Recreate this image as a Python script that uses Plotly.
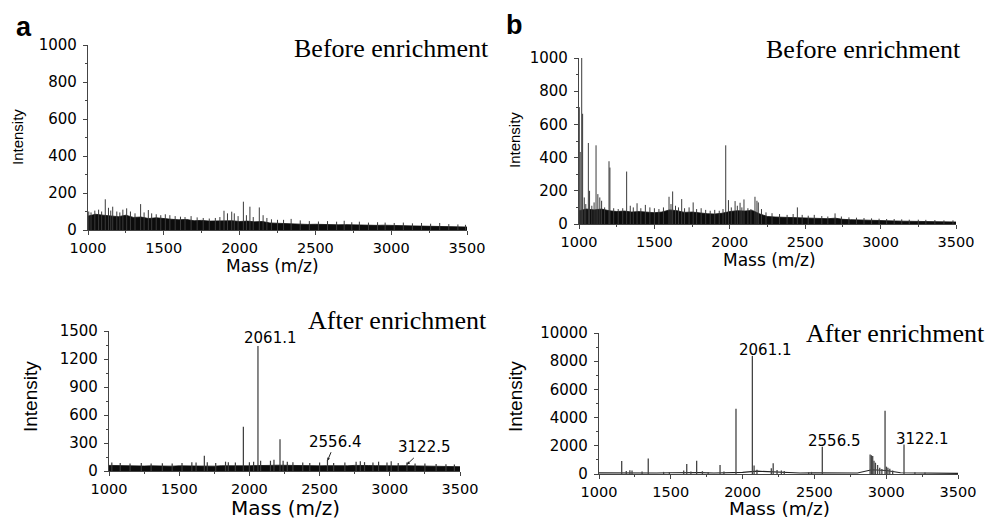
import plotly.graph_objects as go

# ---------------- data ----------------
# Panel a, before enrichment: dense noise band (upper envelope) + individual spikes
a_before_env_mass = [1000, 1050, 1100, 1150, 1200, 1250, 1300, 1350, 1400, 1450, 1500, 1550, 1600, 1650, 1700,
                     1750, 1800, 1850, 1900, 1950, 2000, 2050, 2100, 2150, 2200, 2250, 2300, 2350, 2400, 2450,
                     2500, 2550, 2600, 2650, 2700, 2750, 2800, 2850, 2900, 2950, 3000, 3050, 3100, 3150, 3200,
                     3250, 3300, 3350, 3400, 3450, 3500]
a_before_env_int = [75, 85, 80, 78, 72, 80, 68, 70, 62, 66, 60, 58, 55, 57, 50,
                    52, 48, 50, 52, 50, 46, 48, 44, 46, 38, 36, 34, 35, 32, 30,
                    31, 29, 30, 28, 29, 27, 28, 26, 25, 26, 24, 23, 24, 22, 21,
                    20, 19, 21, 18, 17, 16]
a_before_peak_mass = [1005, 1020, 1045, 1070, 1090, 1114, 1135, 1150, 1163, 1190, 1210, 1230, 1255, 1280, 1310,
                      1347, 1370, 1398, 1420, 1450, 1480, 1510, 1540, 1575, 1610, 1640, 1680, 1720, 1760, 1800,
                      1840, 1870, 1897, 1920, 1948, 1965, 1990, 2025, 2045, 2068, 2090, 2130, 2155, 2180, 2210,
                      2250, 2290, 2340, 2400, 2460, 2520, 2580, 2640, 2690, 2740, 2790, 2850, 2910, 2960, 3020,
                      3080, 3140, 3200, 3260, 3320, 3380, 3440, 3490]
a_before_peak_int = [100, 95, 105, 110, 100, 166, 120, 105, 126, 100, 95, 110, 117, 100, 90,
                     140, 95, 108, 90, 85, 80, 85, 80, 75, 72, 70, 75, 68, 65, 62,
                     65, 70, 104, 90, 99, 90, 75, 153, 80, 126, 70, 122, 80, 65, 58,
                     55, 55, 60, 52, 48, 46, 48, 45, 50, 42, 45, 40, 42, 40, 38,
                     40, 36, 38, 34, 38, 32, 30, 28]

# Panel b, before enrichment
b_before_env_mass = a_before_env_mass
b_before_env_int = [80, 90, 85, 90, 80, 75, 78, 72, 75, 70, 68, 72, 85, 80, 70,
                    72, 65, 62, 60, 65, 75, 80, 78, 82, 60, 45, 42, 40, 38, 40,
                    36, 34, 33, 32, 35, 28, 26, 24, 24, 22, 20, 19, 18, 17, 16,
                    16, 15, 14, 14, 13, 12]
b_before_peak_mass = [1002, 1008, 1018, 1024, 1035, 1045, 1062, 1070, 1085, 1100, 1113, 1125, 1138, 1150, 1170,
                      1199, 1205, 1230, 1260, 1290, 1316, 1340, 1360, 1385, 1410, 1440, 1470, 1500, 1530, 1560,
                      1597, 1610, 1621, 1640, 1660, 1681, 1700, 1730, 1757, 1780, 1810, 1840, 1870, 1900, 1930,
                      1955, 1973, 1991, 2010, 2035, 2050, 2068, 2080, 2094, 2120, 2140, 2167, 2180, 2189, 2210,
                      2240, 2280, 2330, 2380, 2420, 2448, 2480, 2520, 2560, 2610, 2650, 2698, 2740, 2790, 2840,
                      2890, 2940, 2990, 3040, 3090, 3140, 3190, 3250, 3300, 3360, 3420, 3480]
b_before_peak_int = [704, 434, 1000, 664, 160, 120, 488, 200, 110, 130, 474, 180, 160, 140, 100,
                     378, 340, 95, 90, 95, 316, 110, 100, 125, 95, 115, 100, 95, 90, 100,
                     164, 120, 196, 110, 100, 150, 95, 100, 130, 90, 95, 85, 80, 85, 80,
                     90, 474, 144, 100, 138, 110, 128, 100, 148, 95, 90, 164, 140, 130, 90,
                     70, 65, 60, 55, 60, 100, 55, 50, 55, 48, 45, 64, 45, 40, 38,
                     36, 34, 32, 30, 30, 28, 26, 26, 25, 24, 22, 22]

# Panel a, after enrichment
a_after_env_mass = a_before_env_mass
a_after_env_int = [60, 58, 55, 57, 55, 53, 55, 52, 54, 52, 55, 53, 56, 54, 55,
                   52, 56, 54, 55, 57, 55, 58, 56, 60, 62, 60, 58, 56, 55, 54,
                   55, 57, 55, 54, 56, 60, 62, 58, 57, 55, 56, 55, 57, 55, 53,
                   52, 50, 50, 48, 47, 46]
a_after_peak_mass = [1020, 1080, 1150, 1230, 1300, 1380, 1450, 1520, 1590, 1620, 1679, 1700, 1760, 1830, 1850,
                     1900, 1957, 2000, 2030, 2061, 2080, 2150, 2175, 2218, 2240, 2270, 2310, 2380, 2430, 2500,
                     2556, 2600, 2680, 2760, 2790, 2820, 2880, 2920, 2980, 3010, 3060, 3122, 3180, 3250, 3330,
                     3400, 3460]
a_after_peak_int = [90, 85, 80, 85, 80, 82, 80, 85, 95, 90, 164, 95, 85, 100, 95,
                    90, 475, 95, 100, 1339, 110, 110, 120, 339, 110, 100, 95, 90, 85, 90,
                    118, 85, 90, 100, 105, 95, 90, 100, 90, 105, 85, 90, 80, 80, 75,
                    72, 70]

# Panel b, after enrichment: baseline + peaks
b_after_base_mass = [1000, 1100, 1200, 1300, 1400, 1500, 1600, 1700, 1800, 1900, 2000, 2100, 2200, 2300,
                     2400, 2500, 2600, 2700, 2800, 2900, 3000, 3100, 3200, 3300, 3400, 3500]
b_after_base_int = [80, 70, 110, 60, 70, 90, 120, 100, 70, 90, 120, 200, 150, 110,
                    70, 80, 70, 60, 70, 300, 250, 90, 70, 60, 55, 50]
b_after_peak_mass = [1158, 1190, 1215, 1230, 1300, 1343, 1450, 1490, 1590, 1611, 1640, 1680, 1720, 1760,
                     1843, 1870, 1954, 2068, 2080, 2100, 2200, 2213, 2240, 2270, 2290, 2460, 2480, 2555,
                     2888, 2897, 2906, 2915, 2925, 2940, 2955, 2970, 2992, 3002, 3012, 3025, 3045, 3124,
                     3200, 3270]
b_after_peak_int = [920, 220, 260, 240, 180, 1108, 150, 140, 250, 708, 180, 943, 200, 150,
                    637, 180, 4623, 8373, 600, 300, 400, 755, 280, 250, 220, 130, 150, 1934,
                    1390, 1330, 1270, 940, 800, 640, 450, 350, 4480, 520, 450, 380, 250, 2100,
                    120, 100]

x_ticks = [1000, 1500, 2000, 2500, 3000, 3500]

# ---------------- figure ----------------
W, H = 990, 520
def fx(px):
    return px / W
def fy(py):
    return 1 - py / H

TICKFONT = dict(family="DejaVu Sans", size=15, color="black")
XTICKFONT = dict(family="DejaVu Sans", size=14.5, color="black")
AXCOL = "#444"

fig = go.Figure()

def sticks(mass, inten):
    xs, ys = [], []
    for m, v in zip(mass, inten):
        xs += [m, m, None]
        ys += [0, v, None]
    return xs, ys

def add_band(mass, inten, xa, ya):
    fig.add_trace(go.Scatter(x=mass, y=inten, mode="lines", fill="tozeroy",
                             fillcolor="#0c0c0c", line=dict(color="#0c0c0c", width=0.8),
                             xaxis=xa, yaxis=ya, hoverinfo="skip", showlegend=False))

def add_sticks(mass, inten, xa, ya, color="#555", width=1):
    xs, ys = sticks(mass, inten)
    fig.add_trace(go.Scatter(x=xs, y=ys, mode="lines", line=dict(color=color, width=width),
                             xaxis=xa, yaxis=ya, hoverinfo="skip", showlegend=False))

add_band(a_before_env_mass, a_before_env_int, "x", "y")
add_sticks(a_before_peak_mass, a_before_peak_int, "x", "y", "#3a3a3a", 1)
add_band(b_before_env_mass, b_before_env_int, "x2", "y2")
add_sticks(b_before_peak_mass, b_before_peak_int, "x2", "y2", "#3a3a3a", 1)
add_band(a_after_env_mass, a_after_env_int, "x3", "y3")
add_sticks(a_after_peak_mass, a_after_peak_int, "x3", "y3", "#3a3a3a", 1.2)
fig.add_trace(go.Scatter(x=b_after_base_mass, y=b_after_base_int, mode="lines",
                         line=dict(color="#222", width=1.2), xaxis="x4", yaxis="y4",
                         hoverinfo="skip", showlegend=False))
add_sticks(b_after_peak_mass, b_after_peak_int, "x4", "y4", "#444", 1.3)

def xax(dom, anchor):
    return dict(domain=dom, anchor=anchor, range=[1000, 3500], tickvals=x_ticks,
                showline=True, linecolor=AXCOL, linewidth=1.2, ticks="outside", ticklen=4,
                tickcolor=AXCOL, tickfont=XTICKFONT, showgrid=False, zeroline=False, automargin=False,
                minor=dict(dtick=250, ticks="outside", ticklen=2, tickcolor=AXCOL))

def yax(dom, anchor, rng, dtick, minor):
    return dict(domain=dom, anchor=anchor, range=rng, dtick=dtick, tick0=0, tickformat="d",
                showline=True, linecolor=AXCOL, linewidth=1.2, ticks="outside", ticklen=4,
                tickcolor=AXCOL, tickfont=TICKFONT, showgrid=False, zeroline=False, automargin=False,
                ticklabelstandoff=3,
                minor=dict(dtick=minor, ticks="outside", ticklen=2, tickcolor=AXCOL))

fig.update_layout(
    template="none",
    width=W, height=H, margin=dict(l=0, r=0, t=0, b=0, pad=0),
    paper_bgcolor="white", plot_bgcolor="white", showlegend=False,
    xaxis=xax([fx(88), fx(467)], "y"),
    yaxis=yax([fy(230), fy(45)], "x", [0, 1000], 200, 100),
    xaxis2=xax([fx(579), fx(956)], "y2"),
    yaxis2=yax([fy(224), fy(58)], "x2", [0, 1000], 200, 100),
    xaxis3=xax([fx(109), fx(460)], "y3"),
    yaxis3=yax([fy(471), fy(331)], "x3", [0, 1500], 300, 150),
    xaxis4=xax([fx(599), fx(958)], "y4"),
    yaxis4=yax([fy(474), fy(333)], "x4", [0, 10000], 2000, 1000),
)

ann = []
def text(px, py, s, size, family="DejaVu Sans", xanchor="center", angle=0, bold=False):
    ann.append(dict(x=fx(px), y=fy(py), xref="paper", yref="paper", text=("<b>%s</b>" % s) if bold else s,
                    showarrow=False, xanchor=xanchor, yanchor="middle", textangle=angle, borderpad=0,
                    font=dict(family=family, size=size, color="black")))

SANS = "Liberation Sans, Arial, sans-serif"
SERIF = "Liberation Serif, Times New Roman, serif"
# panel letters
text(24, 27, "a", 27, SANS, bold=True)
text(514, 25, "b", 27, SANS, bold=True)
# titles
text(490, 48, "Before enrichment", 26, SERIF, xanchor="right")
text(962, 50, "Before enrichment", 26, SERIF, xanchor="right")
text(488, 320, "After enrichment", 26, SERIF, xanchor="right")
text(986, 333, "After enrichment", 26, SERIF, xanchor="right")
# axis titles
text(18, 137, "Intensity", 15, SANS, angle=-90)
text(515, 140, "Intensity", 15, SANS, angle=-90)
text(30, 397, "Intensity", 19, SANS, angle=-90)
text(515, 397, "Intensity", 19, SANS, angle=-90)
text(272, 266, "Mass (m/z)", 17)
text(769, 260, "Mass (m/z)", 17)
text(285, 508, "Mass (m/z)", 20)
text(779, 508.5, "Mass (m/z)", 18.5)
# peak labels
text(270, 338, "2061.1", 15)
text(765, 350, "2061.1", 15)
text(834, 441, "2556.5", 15)
text(922, 439, "3122.1", 15)

# arrowed labels in panel a (after)
ann.append(dict(x=2556, y=110, xref="x3", yref="y3", text="2556.4", showarrow=True,
                ax=8, ay=-19, arrowhead=2, arrowsize=0.6, arrowwidth=1, arrowcolor="#222",
                font=dict(family="DejaVu Sans", size=15, color="black")))
ann.append(dict(x=3122, y=70, xref="x3", yref="y3", text="3122.5", showarrow=True,
                ax=18, ay=-17, arrowhead=2, arrowsize=0.6, arrowwidth=1, arrowcolor="#222",
                font=dict(family="DejaVu Sans", size=15, color="black")))

fig.update_layout(annotations=ann)
fig.write_html("out.html", config={"displayModeBar": False},
               post_script="document.body.style.margin='0';document.body.style.overflow='hidden';")
